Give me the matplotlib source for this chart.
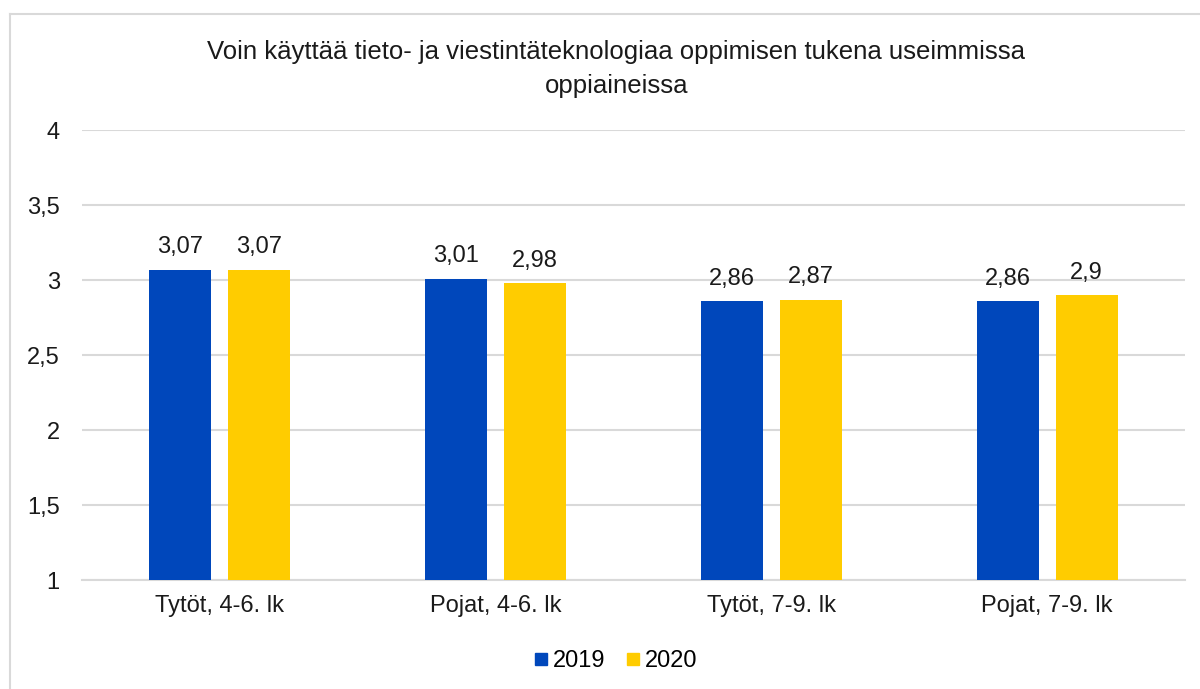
import matplotlib
matplotlib.use("Agg")
import matplotlib.pyplot as plt
import numpy as np
from matplotlib.lines import Line2D

plt.rcParams['font.family'] = ['Liberation Sans', 'DejaVu Sans']

categories = ["Tytöt, 4-6. lk", "Pojat, 4-6. lk", "Tytöt, 7-9. lk", "Pojat, 7-9. lk"]
series_names = ["2019", "2020"]
values_2019 = [3.07, 3.01, 2.86, 2.86]
values_2020 = [3.07, 2.98, 2.87, 2.90]
value_labels_2019 = ["3,07", "3,01", "2,86", "2,86"]
value_labels_2020 = ["3,07", "2,98", "2,87", "2,9"]
yticks = [1, 1.5, 2, 2.5, 3, 3.5, 4]
ytick_labels = ["1", "1,5", "2", "2,5", "3", "3,5", "4"]
title = "Voin käyttää tieto- ja viestintäteknologiaa oppimisen tukena useimmissa\noppiaineissa"

c2019 = "#0047BB"
c2020 = "#FFCC00"
txt = "#1a1a1a"

fig = plt.figure(figsize=(12, 6.89), dpi=100)
ax = fig.add_axes([0.0683, 0.1582, 0.9192, 0.6531])

x = np.arange(len(categories))
w = 0.225
off = 0.143
ax.bar(x - off, np.array(values_2019) - 1, w, bottom=1, color=c2019, zorder=3)
ax.bar(x + off, np.array(values_2020) - 1, w, bottom=1, color=c2020, zorder=3)

for xi, v, lab in zip(x, values_2019, value_labels_2019):
    ax.text(xi - off, v + 0.11, lab, ha='center', va='baseline', fontsize=17, color=txt)
for xi, v, lab in zip(x, values_2020, value_labels_2020):
    ax.text(xi + off, v + 0.11, lab, ha='center', va='baseline', fontsize=17, color=txt)

ax.set_ylim(1, 4)
ax.set_xlim(-0.5, len(categories) - 0.5)
ax.set_yticks(yticks)
ax.set_yticklabels(ytick_labels, fontsize=17, color=txt)
ax.set_xticks(x)
ax.set_xticklabels(categories, fontsize=17, color=txt)
ax.tick_params(axis='both', length=0)
ax.tick_params(axis='x', pad=11)
ax.tick_params(axis='y', pad=16)
ax.grid(axis='y', color='#D9D9D9', linewidth=1.5, zorder=0)
for s in ['top', 'right', 'left']:
    ax.spines[s].set_visible(False)
ax.spines['bottom'].set_color('#D9D9D9')
ax.spines['bottom'].set_linewidth(1.5)

fig.text(0.5135, 1 - 69 / 689, title, ha='center', va='center', fontsize=18.5, color=txt, linespacing=1.5)

handles = [Line2D([], [], marker='s', linestyle='', color=c2019, markersize=8),
           Line2D([], [], marker='s', linestyle='', color=c2020, markersize=8)]
fig.legend(handles, series_names, loc='center', bbox_to_anchor=(0.513, 1 - 661 / 689), ncol=2,
           frameon=False, fontsize=17, handletextpad=0.2, columnspacing=0.9, handlelength=0.6)

# outer chart border (left and top)
fig.add_artist(Line2D([10 / 1200, 10 / 1200], [0, 1 - 14 / 689], transform=fig.transFigure, color='#D9D9D9', lw=1.5))
fig.add_artist(Line2D([10 / 1200, 1], [1 - 14 / 689, 1 - 14 / 689], transform=fig.transFigure, color='#D9D9D9', lw=1.5))

fig.savefig("out.png", dpi=100)
